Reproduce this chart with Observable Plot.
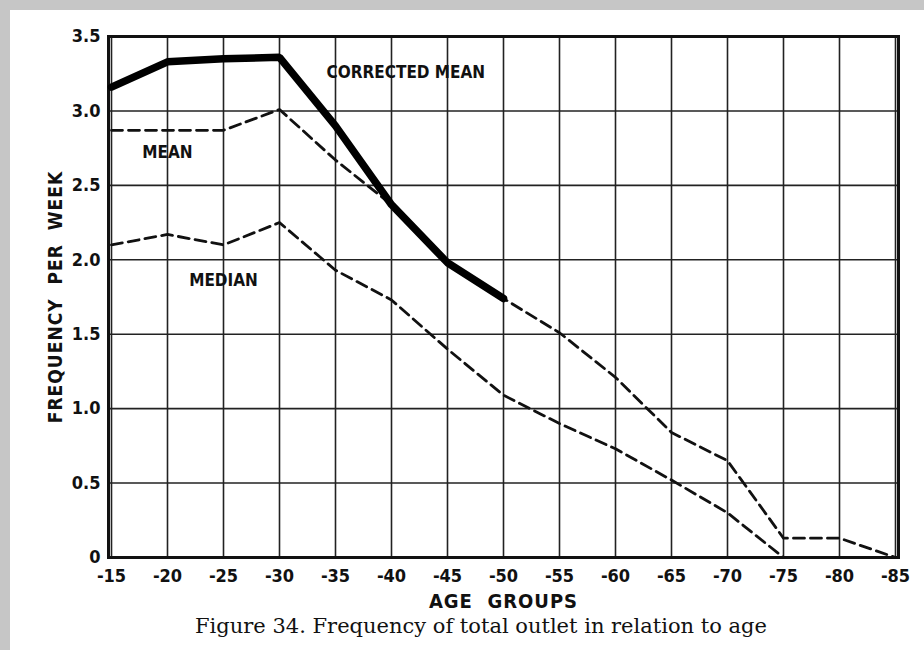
<!DOCTYPE html>
<html>
<head>
<meta charset="utf-8">
<script src="https://cdn.jsdelivr.net/npm/d3@7"></script>
<script src="https://cdn.jsdelivr.net/npm/@observablehq/plot@0.6"></script>
<style>
  html, body { margin: 0; padding: 0; background: #ffffff; }
  #page { position: relative; width: 914px; height: 640px; border-left: 10px solid #c6c6c6; border-top: 10px solid #c6c6c6; background: #fff; }
  #chart svg { display: block; }
  #caption { position: absolute; left: 14px; width: 914px; top: 604px; text-align: center;
    font-family: "DejaVu Serif", "Liberation Serif", serif; font-size: 21px; color: #111; }
  .axis-label text { letter-spacing: 1px; }
</style>
</head>
<body>
<div id="page">
  <div id="chart"></div>
  <div id="caption">Figure 34. Frequency of total outlet in relation to age</div>
</div>
<script>
// Age groups (x categories / tick labels)
const ageLabels = ["-15","-20","-25","-30","-35","-40","-45","-50","-55","-60","-65","-70","-75","-80","-85"];
// Y ticks and their labels
const yTicks = [0, 0.5, 1, 1.5, 2, 2.5, 3, 3.5];
const yTickLabels = ["0", "0.5", "1.0", "1.5", "2.0", "2.5", "3.0", "3.5"];

// Series values (frequency per week)
const correctedMeanAges = ["-15","-20","-25","-30","-35","-40","-45","-50"];
const correctedMean = [3.16, 3.33, 3.35, 3.36, 2.90, 2.37, 1.98, 1.74];

const meanAges = ["-15","-20","-25","-30","-35","-40","-45","-50","-55","-60","-65","-70","-75","-80","-85"];
const mean = [2.87, 2.87, 2.87, 3.01, 2.67, 2.37, 1.98, 1.74, 1.51, 1.21, 0.84, 0.65, 0.13, 0.13, 0];

const medianAges = ["-15","-20","-25","-30","-35","-40","-45","-50","-55","-60","-65","-70","-75"];
const median = [2.10, 2.17, 2.10, 2.25, 1.93, 1.73, 1.40, 1.09, 0.90, 0.73, 0.52, 0.30, 0];

const seriesNames = ["CORRECTED MEAN", "MEAN", "MEDIAN"];

const rows = (ages, vals, name) => ages.map((a, i) => ({age: a, value: vals[i], series: name}));
const cmRows = rows(correctedMeanAges, correctedMean, seriesNames[0]);
const meanRows = rows(meanAges, mean, seriesNames[1]);
const medRows = rows(medianAges, median, seriesNames[2]);

const labelFont = {fontFamily: "DejaVu Sans Condensed", fontWeight: "bold", fontSize: 17, fill: "#111"};

const chart = Plot.plot({
  width: 914,
  height: 605,
  marginLeft: 98,
  marginRight: 26,
  marginTop: 26,
  marginBottom: 58,
  style: {fontFamily: "DejaVu Sans Condensed", fontWeight: "bold", fontSize: "18px", color: "#111", background: "#fff"},
  x: {type: "point", domain: ageLabels, padding: 0},
  y: {domain: [0, 3.5]},
  marks: [
    Plot.gridX(ageLabels, {stroke: "#222", strokeOpacity: 1, strokeWidth: 1.6}),
    Plot.gridY(yTicks, {stroke: "#222", strokeOpacity: 1, strokeWidth: 1.6}),
    Plot.frame({stroke: "#111", strokeWidth: 3}),
    Plot.axisX(ageLabels, {tickSize: 0, tickPadding: 12, fontSize: 18, label: null}),
    Plot.axisY(yTicks, {tickSize: 0, tickPadding: 8, fontSize: 18, tickFormat: (d) => yTickLabels[yTicks.indexOf(d)], label: null}),
    Plot.text(["AGE  GROUPS"], {frameAnchor: "bottom", textAnchor: "middle", lineAnchor: "middle", dy: 44, text: d => d, fontFamily: "DejaVu Sans Condensed", fontWeight: "bold", fontSize: 20, fill: "#111", className: "axis-label"}),
    Plot.text(["FREQUENCY  PER  WEEK"], {frameAnchor: "left", textAnchor: "middle", lineAnchor: "middle", dx: -53, rotate: -90, text: d => d, fontFamily: "DejaVu Sans Condensed", fontWeight: "bold", fontSize: 19, fill: "#111", className: "axis-label"}),
    Plot.line(meanRows, {x: "age", y: "value", stroke: "#111", strokeWidth: 2.8, strokeDasharray: "11,6"}),
    Plot.line(medRows, {x: "age", y: "value", stroke: "#111", strokeWidth: 2.8, strokeDasharray: "11,6"}),
    Plot.line(cmRows, {x: "age", y: "value", stroke: "#000", strokeWidth: 7.5, strokeLinejoin: "miter"}),
    Plot.text([seriesNames[0]], {x: () => "-35", y: () => 3.26, text: d => d, textAnchor: "start", dx: -9, ...labelFont}),
    Plot.text([seriesNames[1]], {x: () => "-20", y: () => 2.72, text: d => d, textAnchor: "middle", ...labelFont}),
    Plot.text([seriesNames[2]], {x: () => "-25", y: () => 1.86, text: d => d, textAnchor: "middle", ...labelFont})
  ]
});
document.getElementById("chart").appendChild(chart);
</script>
</body>
</html>
